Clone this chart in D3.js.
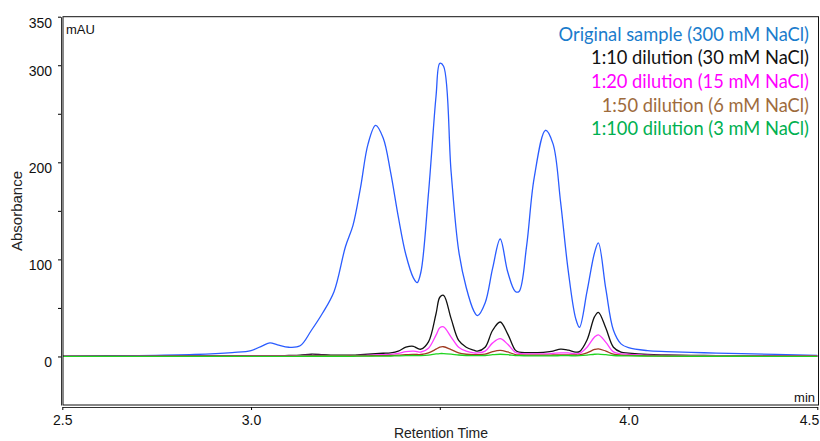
<!DOCTYPE html>
<html>
<head>
<meta charset="utf-8">
<script src="https://cdn.jsdelivr.net/npm/d3@7"></script>
<style>
  html, body { margin: 0; padding: 0; background: #fff; }
  svg { display: block; }
</style>
</head>
<body>
<svg id="chart" width="820" height="441"></svg>
<script>
// Retention time (min), shared by all traces
const retentionTime = [2.50, 2.70, 2.85, 2.95, 3.00, 3.03, 3.05, 3.07, 3.10, 3.13, 3.16, 3.19, 3.22, 3.25, 3.27, 3.29,
  3.31, 3.33, 3.35, 3.37, 3.39, 3.41, 3.43, 3.44, 3.45, 3.47, 3.49, 3.50, 3.51, 3.53, 3.55, 3.57, 3.59, 3.60,
  3.62, 3.64, 3.66, 3.68, 3.70, 3.71, 3.73, 3.75, 3.78, 3.80, 3.82, 3.84, 3.86, 3.87, 3.89, 3.91, 3.92, 3.94,
  3.96, 3.98, 4.00, 4.05, 4.10, 4.20, 4.30, 4.50];

// Absorbance (mAU) for each sample
const original = [0.3, 0.8, 2, 4, 6, 11, 14, 12, 9.5, 11, 27, 45, 67, 113, 135, 174,
  219, 238, 225, 189, 144, 105, 81, 76, 87, 168, 268, 302, 299, 190, 109, 71, 47, 42,
  55, 91, 121, 87, 67, 67, 114, 184, 233, 219, 159, 89, 39, 30, 67, 107, 117, 69,
  27, 13, 9, 6, 5, 3.8, 3, 1];
const dilution10 = [0.2, 0.3, 0.5, 0.7, 0.8, 0.8, 0.8, 0.8, 1, 1.3, 2.3, 1.8, 1.3, 1.3, 1.3, 1.8,
  2.3, 2.8, 3.3, 3.8, 5.5, 9.5, 10.5, 8.5, 7.5, 15, 44, 61, 63, 39, 16.5, 9.5, 6.5, 5.5,
  9.5, 27, 35.5, 23, 6.5, 4.5, 4, 4, 4.5, 5.5, 7.5, 6.5, 4.5, 5, 17, 41, 45.5, 29,
  9.5, 4.5, 3.5, 2, 1.5, 1, 0.8, 0.5];
const dilution20 = [0.2, 0.2, 0.3, 0.4, 0.5, 0.5, 0.5, 0.5, 0.6, 0.8, 1.2, 1, 0.8, 0.8, 0.8, 1,
  1.3, 1.7, 1.8, 2.2, 3.2, 5, 5.5, 5, 4.6, 8.5, 22, 29.5, 30.5, 20, 9.5, 5.5, 3.7, 3.6,
  5.5, 14, 18.3, 12.5, 4.2, 3.2, 2.7, 2.7, 2.7, 3.2, 3.7, 3.7, 2.7, 3.2, 9.5, 20, 22.3, 14.5,
  4.7, 2.7, 2.2, 1.3, 1, 0.8, 0.6, 0.5];
const dilution50 = [0.1, 0.1, 0.2, 0.2, 0.3, 0.3, 0.3, 0.3, 0.3, 0.4, 0.5, 0.5, 0.5, 0.5, 0.5, 0.6,
  0.7, 0.8, 0.9, 1, 1.3, 1.8, 2.2, 2, 2, 3.7, 7.5, 9.6, 10, 7, 3.7, 2.3, 1.8, 1.8,
  2.3, 5, 6.3, 4.6, 2, 1.6, 1.4, 1.4, 1.4, 1.5, 1.7, 1.7, 1.5, 1.6, 3.7, 7.2, 7.9, 5.5,
  2.3, 1.4, 1.1, 0.7, 0.5, 0.4, 0.3, 0.3];
const dilution100 = [0, 0, 0.1, 0.1, 0.1, 0.1, 0.1, 0.1, 0.1, 0.2, 0.2, 0.2, 0.2, 0.2, 0.2, 0.3,
  0.3, 0.4, 0.4, 0.5, 0.6, 0.8, 1, 0.9, 0.9, 1.4, 2.6, 3, 3, 2.4, 1.5, 1, 0.8, 0.8,
  1, 1.8, 2.3, 1.8, 0.9, 0.8, 0.7, 0.7, 0.7, 0.7, 0.8, 0.8, 0.7, 0.8, 1.4, 2.3, 2.4, 1.8,
  1, 0.7, 0.6, 0.4, 0.3, 0.2, 0.2, 0.1];

const seriesNames = ['Original sample (300 mM NaCl)', '1:10 dilution (30 mM NaCl)', '1:20 dilution (15 mM NaCl)',
  '1:50 dilution (6 mM NaCl)', '1:100 dilution (3 mM NaCl)'];
const seriesValues = [original, dilution10, dilution20, dilution50, dilution100];
const lineColors = ['#2a5cff', '#111111', '#ff3cff', '#a03c22', '#1fd41f'];
const legendColors = ['#1a7ccc', '#111111', '#ff00ff', '#9e6b3c', '#00b050'];

const xTicks = [2.5, 3.0, 3.5, 4.0, 4.5];
const xTickLabels = ['2.5', '3.0', '', '4.0', '4.5'];
const yTicks = [0, 50, 100, 150, 200, 250, 300, 350];
const yTickLabels = ['0', '', '100', '', '200', '', '300', '350'];

const svg = d3.select('#chart');
const frame = { left: 63, right: 818.5, top: 16.7, bottom: 405 };

const x = d3.scaleLinear().domain([2.5, 4.5]).range([62.3, 817.3]);
const y = d3.scaleLinear().domain([-50, 350]).range([frame.bottom, frame.top]);

// clip traces to the plot frame
svg.append('clipPath').attr('id', 'plot-clip')
  .append('rect')
  .attr('x', frame.left).attr('y', frame.top)
  .attr('width', frame.right - frame.left).attr('height', frame.bottom - frame.top);

// Traces
const line = d3.line()
  .x(d => x(d[0]))
  .y(d => y(d[1]))
  .curve(d3.curveCatmullRom.alpha(0.5));

svg.append('g')
  .attr('clip-path', 'url(#plot-clip)')
  .selectAll('path')
  .data(seriesValues)
  .enter()
  .append('path')
  .attr('fill', 'none')
  .attr('stroke', (d, i) => lineColors[i])
  .attr('stroke-width', 1.3)
  .attr('d', vals => line(retentionTime.map((t, j) => [t, vals[j]])));

// Frame
svg.append('rect')
  .attr('x', frame.left).attr('y', frame.top)
  .attr('width', frame.right - frame.left).attr('height', frame.bottom - frame.top)
  .attr('fill', 'none').attr('stroke', '#111').attr('stroke-width', 1);

// Axes
const xAxis = d3.axisBottom(x)
  .tickValues(xTicks)
  .tickFormat((d, i) => xTickLabels[i])
  .tickSizeInner(3).tickSizeOuter(0).tickPadding(5);

const gx = svg.append('g')
  .attr('transform', 'translate(0,407)')
  .call(xAxis);
gx.select('.domain').attr('stroke', '#333');
gx.selectAll('text')
  .attr('font-family', 'Liberation Sans, Arial, sans-serif')
  .attr('font-size', 14)
  .attr('fill', '#111');
gx.selectAll('.tick').filter(d => d === 4.5).select('text').attr('text-anchor', 'end').attr('dx', '0.1em');

const yAxis = d3.axisLeft(y)
  .tickValues(yTicks)
  .tickFormat((d, i) => yTickLabels[i])
  .tickSizeInner(3).tickSizeOuter(0).tickPadding(6);

const gy = svg.append('g')
  .attr('transform', 'translate(61,0)')
  .call(yAxis);
gy.select('.domain').attr('stroke', '#333');
gy.selectAll('text')
  .attr('font-family', 'Liberation Sans, Arial, sans-serif')
  .attr('font-size', 14)
  .attr('fill', '#111')
  .attr('dy', '0.78em')
  .attr('y', -0.5);

// Units and titles
svg.append('text')
  .attr('x', 66).attr('y', 33.5)
  .attr('font-family', 'Liberation Sans, Arial, sans-serif')
  .attr('font-size', 13)
  .attr('fill', '#111')
  .text('mAU');

svg.append('text')
  .attr('x', 815).attr('y', 402)
  .attr('text-anchor', 'end')
  .attr('font-family', 'Liberation Sans, Arial, sans-serif')
  .attr('font-size', 13)
  .attr('fill', '#111')
  .text('min');

svg.append('text')
  .attr('x', 441).attr('y', 438)
  .attr('text-anchor', 'middle')
  .attr('font-family', 'Liberation Sans, Arial, sans-serif')
  .attr('font-size', 14)
  .attr('fill', '#222')
  .text('Retention Time');

svg.append('text')
  .attr('transform', 'translate(22,211) rotate(-90)')
  .attr('text-anchor', 'middle')
  .attr('font-family', 'Liberation Sans, Arial, sans-serif')
  .attr('font-size', 15)
  .attr('fill', '#222')
  .text('Absorbance');

// Legend
svg.append('g')
  .selectAll('text')
  .data(seriesNames)
  .enter()
  .append('text')
  .attr('x', 809)
  .attr('y', (d, i) => 40.5 + i * 23.7)
  .attr('text-anchor', 'end')
  .attr('font-family', 'Lato, sans-serif')
  .attr('font-size', 18.3)
  .attr('fill', (d, i) => legendColors[i])
  .text(d => d);
</script>
</body>
</html>
